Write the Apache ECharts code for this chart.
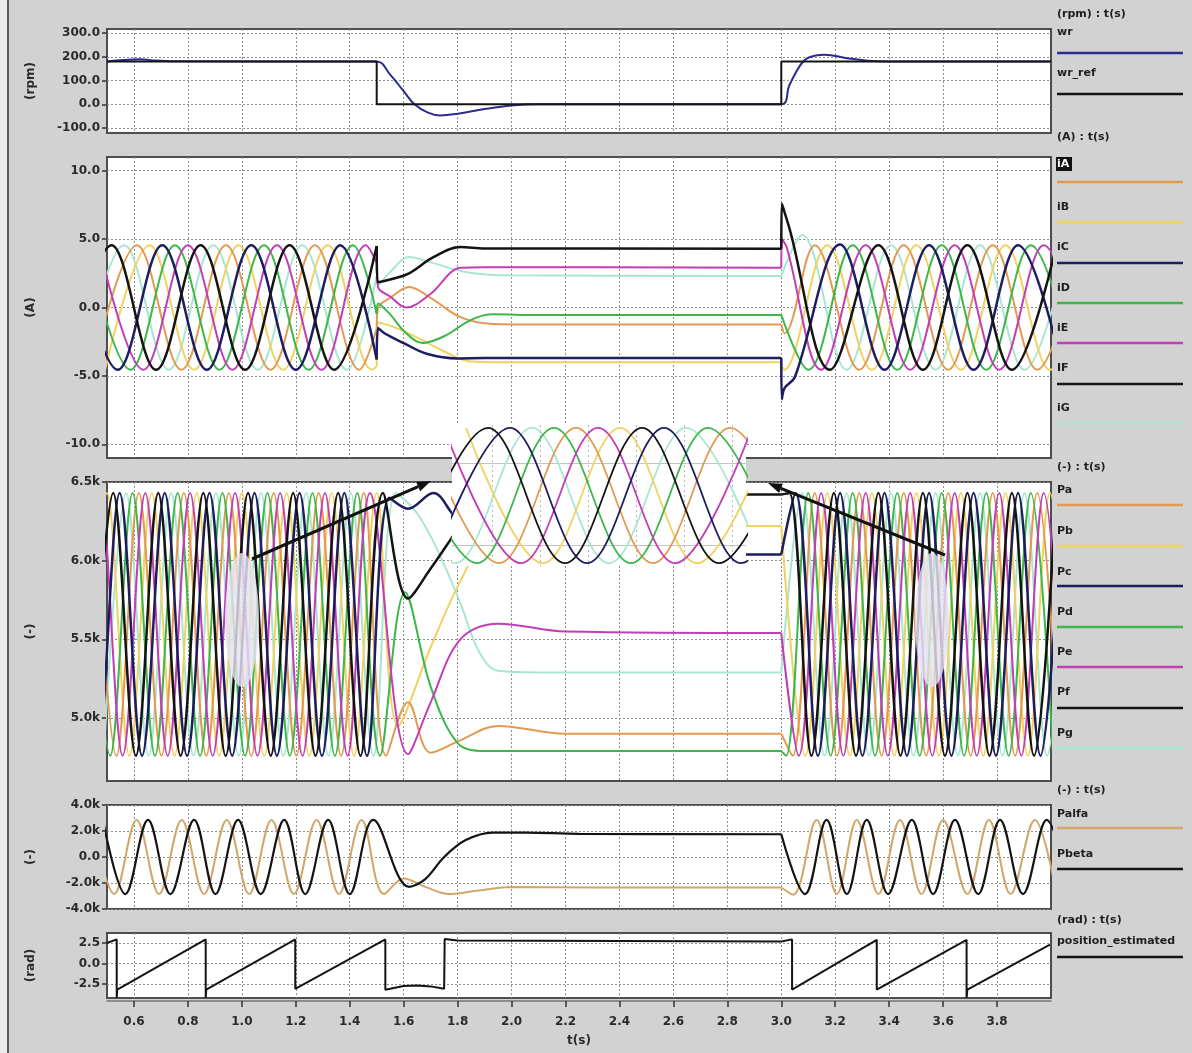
<!DOCTYPE html>
<html><head><meta charset="utf-8">
<script src="https://cdn.jsdelivr.net/npm/echarts@6/dist/echarts.min.js"></script>
<style>html,body{margin:0;padding:0;background:#d2d2d2}#c{width:1192px;height:1053px}</style>
</head><body><div id="c"></div><script>
// ---------- tick labels ----------
const xTicks = [0.6,0.8,1.0,1.2,1.4,1.6,1.8,2.0,2.2,2.4,2.6,2.8,3.0,3.2,3.4,3.6,3.8];
const rpmTicks = [-100,0,100,200,300];
const ampTicks = [-10,-5,0,5,10];
const pTicks = [5.0,5.5,6.0,6.5];          // thousands
const pabTicks = [-4,-2,0,2,4];            // thousands
const radTicks = [-2.5,0,2.5];
const insetGridX = [40,88,136,184,232,280];
const insetGridY = [-0.70,0.46];

// ---------- speed (rpm) ----------
const wr = [[0.5,180],[0.56,186],[0.62,190],[0.68,184],[0.75,181],[1.5,180],[1.55,125],[1.6,55],[1.64,0],[1.69,-35],[1.735,-47],[1.8,-40],[1.9,-20],[2.0,-5],[2.1,0],[3.0,0],[3.03,80],[3.07,164],[3.1,196],[3.16,209],[3.25,193],[3.36,181],[3.45,180],[4.0,180]];
const wr_ref = [[0.5,180],[1.5,180],[1.5,0],[3.0,0],[3.0,180],[4.0,180]];

// ---------- phase currents (A) : left / transient / right ----------
const iA_L = [[0.446,-4.55],[0.611,4.55],[0.776,-4.55],[0.941,4.55],[1.106,-4.55],[1.271,4.55],[1.436,-4.55],[1.5,-1.55]];
const iA_M = [[1.505,0.0],[1.55,0.7],[1.62,1.5],[1.7,0.7],[1.81,-0.7],[1.93,-1.2],[2.1,-1.25],[3.0,-1.25]];
const iA_R = [[3.012,-1.9],[3.124,4.55],[3.289,-4.55],[3.454,4.55],[3.619,-4.55],[3.784,4.55],[3.949,-4.55],[4.114,4.55]];
const iB_L = [[0.493,-4.55],[0.658,4.55],[0.823,-4.55],[0.988,4.55],[1.153,-4.55],[1.318,4.55],[1.483,-4.55],[1.5,-4.3]];
const iB_M = [[1.505,-1.1],[1.56,-1.4],[1.65,-2.2],[1.75,-3.2],[1.85,-3.95],[1.95,-4.0],[3.0,-4.0]];
const iB_R = [[3.01,-4.55],[3.171,4.55],[3.336,-4.55],[3.501,4.55],[3.666,-4.55],[3.831,4.55],[3.996,-4.55],[4.161,4.55]];
const iC_L = [[0.375,4.55],[0.540,-4.55],[0.705,4.55],[0.870,-4.55],[1.035,4.55],[1.200,-4.55],[1.365,4.55],[1.5,-3.8]];
const iC_M = [[1.505,-1.5],[1.53,-1.9],[1.6,-2.6],[1.685,-3.38],[1.8,-3.72],[1.9,-3.7],[3.0,-3.7]];
const iC_R = [[3.002,-6.7],[3.012,-5.9],[3.05,-5.1],[3.218,4.6],[3.383,-4.55],[3.548,4.55],[3.713,-4.55],[3.878,4.55],[4.043,-4.55]];
const iD_L = [[0.422,4.55],[0.587,-4.55],[0.752,4.55],[0.917,-4.55],[1.082,4.55],[1.247,-4.55],[1.412,4.55],[1.5,-0.47]];
const iD_M = [[1.505,0.3],[1.55,-0.5],[1.6,-1.7],[1.67,-2.6],[1.75,-2.1],[1.85,-0.9],[1.93,-0.5],[2.1,-0.55],[3.0,-0.55]];
const iD_R = [[3.1,-4.55],[3.265,4.55],[3.43,-4.55],[3.595,4.55],[3.76,-4.55],[3.925,4.55],[4.09,-4.55]];
const iE_L = [[0.470,4.55],[0.635,-4.55],[0.800,4.55],[0.965,-4.55],[1.130,4.55],[1.295,-4.55],[1.460,4.55],[1.5,3.26]];
const iE_M = [[1.505,1.5],[1.55,0.8],[1.61,0.0],[1.7,1.0],[1.81,2.9],[1.9,2.95],[3.0,2.9]];
const iE_R = [[3.002,5.0],[3.02,4.4],[3.148,-4.55],[3.313,4.55],[3.478,-4.55],[3.643,4.55],[3.808,-4.55],[3.973,4.55],[4.138,-4.55]];
const iF_L = [[0.352,-4.55],[0.517,4.55],[0.682,-4.55],[0.847,4.55],[1.012,-4.55],[1.177,4.55],[1.342,-4.55],[1.5,4.5]];
const iF_M = [[1.503,1.85],[1.52,1.9],[1.56,2.1],[1.62,2.5],[1.71,3.68],[1.81,4.42],[1.9,4.32],[3.0,4.3]];
const iF_R = [[3.002,7.6],[3.01,7.1],[3.03,5.8],[3.18,-4.55],[3.36,4.55],[3.525,-4.55],[3.69,4.55],[3.855,-4.55],[4.02,4.55]];
const iG_L = [[0.399,-4.55],[0.564,4.55],[0.729,-4.55],[0.894,4.55],[1.059,-4.55],[1.224,4.55],[1.389,-4.55],[1.5,2.3]];
const iG_M = [[1.505,1.7],[1.55,2.6],[1.62,3.7],[1.7,3.3],[1.83,2.6],[1.99,2.35],[3.0,2.3]];
const iG_R = [[3.077,5.3],[3.242,-4.55],[3.407,4.55],[3.572,-4.55],[3.737,4.55],[3.902,-4.55],[4.067,4.55]];

// ---------- Pa..Pg (thousands) : until 3.0 / from 3.0 ----------
const Pa_1 = [[0.452,6.43],[0.535,4.76],[0.618,6.43],[0.702,4.76],[0.785,6.43],[0.868,4.76],[0.952,6.43],[1.035,4.76],[1.118,6.43],[1.202,4.76],[1.285,6.43],[1.368,4.76],[1.452,6.43],[1.535,4.76],[1.616,5.1],[1.7,4.78],[1.8,4.85],[1.95,4.95],[2.2,4.9],[3.0,4.9]];
const Pa_2 = [[3.042,4.76],[3.124,6.43],[3.207,4.76],[3.289,6.43],[3.372,4.76],[3.454,6.43],[3.537,4.76],[3.619,6.43],[3.702,4.76],[3.784,6.43],[3.867,4.76],[3.949,6.43],[4.032,4.76]];
const Pb_1 = [[0.416,4.76],[0.500,6.43],[0.583,4.76],[0.666,6.43],[0.750,4.76],[0.833,6.43],[0.916,4.76],[1.000,6.43],[1.083,4.76],[1.166,6.43],[1.250,4.76],[1.333,6.43],[1.416,4.76],[1.500,6.43],[1.58,4.95],[1.7,5.45],[1.81,5.87],[1.9,6.12],[2.0,6.2],[3.0,6.22]];
const Pb_2 = [[3.089,4.76],[3.171,6.43],[3.254,4.76],[3.336,6.43],[3.419,4.76],[3.501,6.43],[3.584,4.76],[3.666,6.43],[3.749,4.76],[3.831,6.43],[3.914,4.76],[3.996,6.43],[4.079,4.76]];
const Pc_1 = [[0.381,6.43],[0.464,4.76],[0.547,6.43],[0.630,4.76],[0.714,6.43],[0.797,4.76],[0.880,6.43],[0.964,4.76],[1.047,6.43],[1.130,4.76],[1.214,6.43],[1.297,4.76],[1.380,6.43],[1.464,4.76],[1.547,6.4],[1.616,6.33],[1.71,6.43],[1.78,6.3],[1.9,6.06],[2.1,6.04],[3.0,6.04]];
const Pc_2 = [[3.053,6.43],[3.136,4.76],[3.218,6.43],[3.301,4.76],[3.383,6.43],[3.466,4.76],[3.548,6.43],[3.631,4.76],[3.713,6.43],[3.796,4.76],[3.878,6.43],[3.961,4.76],[4.043,6.43]];
const Pd_1 = [[0.428,6.43],[0.512,4.76],[0.595,6.43],[0.678,4.76],[0.762,6.43],[0.845,4.76],[0.928,6.43],[1.012,4.76],[1.095,6.43],[1.178,4.76],[1.262,6.43],[1.345,4.76],[1.428,6.43],[1.512,4.76],[1.605,5.8],[1.7,5.2],[1.8,4.84],[1.9,4.79],[3.0,4.79]];
const Pd_2 = [[3.018,4.76],[3.100,6.43],[3.183,4.76],[3.265,6.43],[3.348,4.76],[3.430,6.43],[3.513,4.76],[3.595,6.43],[3.678,4.76],[3.760,6.43],[3.843,4.76],[3.925,6.43],[4.008,4.76]];
const Pe_1 = [[0.392,4.76],[0.475,6.43],[0.558,4.76],[0.642,6.43],[0.725,4.76],[0.808,6.43],[0.892,4.76],[0.975,6.43],[1.058,4.76],[1.142,6.43],[1.225,4.76],[1.308,6.43],[1.392,4.76],[1.475,6.43],[1.616,4.77],[1.7,5.1],[1.81,5.5],[1.95,5.6],[2.2,5.55],[3.0,5.54]];
const Pe_2 = [[3.065,4.76],[3.148,6.43],[3.230,4.76],[3.313,6.43],[3.395,4.76],[3.478,6.43],[3.560,4.76],[3.643,6.43],[3.725,4.76],[3.808,6.43],[3.890,4.76],[3.973,6.43],[4.055,4.76]];
const Pf_1 = [[0.440,4.76],[0.523,6.43],[0.607,4.76],[0.690,6.43],[0.773,4.76],[0.857,6.43],[0.940,4.76],[1.023,6.43],[1.107,4.76],[1.190,6.43],[1.273,4.76],[1.357,6.43],[1.440,4.76],[1.523,6.43],[1.616,5.76],[1.7,5.95],[1.78,6.15],[1.87,6.38],[1.97,6.42],[3.0,6.42]];
const Pf_2 = [[3.030,6.43],[3.112,4.76],[3.195,6.43],[3.277,4.76],[3.360,6.43],[3.442,4.76],[3.525,6.43],[3.607,4.76],[3.690,6.43],[3.772,4.76],[3.855,6.43],[3.937,4.76],[4.020,6.43]];
const Pg_1 = [[0.488,4.76],[0.571,6.43],[0.654,4.76],[0.738,6.43],[0.821,4.76],[0.904,6.43],[0.988,4.76],[1.071,6.43],[1.154,4.76],[1.238,6.43],[1.321,4.76],[1.404,6.43],[1.488,4.76],[1.571,6.43],[1.65,6.3],[1.73,6.05],[1.81,5.73],[1.88,5.42],[1.95,5.3],[2.1,5.29],[3.0,5.29]];
const Pg_2 = [[3.077,6.43],[3.160,4.76],[3.242,6.43],[3.325,4.76],[3.407,6.43],[3.490,4.76],[3.572,6.43],[3.655,4.76],[3.737,6.43],[3.820,4.76],[3.902,6.43],[3.985,4.76],[4.067,6.43]];

// ---------- Palfa / Pbeta (thousands) ----------
const Palfa_1 = [[0.444,2.85],[0.527,-2.85],[0.610,2.85],[0.693,-2.85],[0.777,2.85],[0.860,-2.85],[0.944,2.85],[1.027,-2.85],[1.110,2.85],[1.193,-2.85],[1.277,2.85],[1.360,-2.85],[1.444,2.85],[1.527,-2.85],[1.6,-1.65],[1.68,-2.3],[1.77,-2.85],[1.87,-2.6],[2.0,-2.3],[2.3,-2.35],[3.0,-2.35]];
const Palfa_2 = [[3.044,-2.9],[3.131,2.85],[3.206,-2.85],[3.28,2.85],[3.36,-2.85],[3.44,2.85],[3.52,-2.85],[3.60,2.85],[3.69,-2.85],[3.77,2.85],[3.85,-2.85],[3.94,2.85],[4.02,-2.85]];
const Pbeta_1 = [[0.485,2.85],[0.568,-2.85],[0.652,2.85],[0.735,-2.85],[0.823,2.85],[0.902,-2.85],[0.986,2.85],[1.070,-2.85],[1.157,2.85],[1.235,-2.85],[1.320,2.85],[1.400,-2.85],[1.487,2.85],[1.62,-2.3],[1.68,-1.7],[1.75,0.0],[1.83,1.3],[1.93,1.88],[2.05,1.88],[2.25,1.78],[3.0,1.75]];
const Pbeta_2 = [[3.088,-2.85],[3.168,2.85],[3.243,-2.85],[3.317,2.85],[3.396,-2.85],[3.484,2.85],[3.563,-2.85],[3.644,2.85],[3.73,-2.85],[3.811,2.85],[3.896,-2.85],[3.984,2.85],[4.07,-2.85]];

// ---------- position_estimated (rad) ----------
const position_estimated = [[0.5,2.5],[0.536,2.95],[0.536,-4.2],[0.538,-3.2],[0.866,2.95],[0.866,-4.2],[0.868,-3.2],[1.198,2.95],[1.198,-3.1],[1.532,2.95],[1.532,-3.2],[1.55,-3.1],[1.6,-2.75],[1.65,-2.7],[1.7,-2.8],[1.75,-3.1],[1.752,-3.2],[1.752,3.0],[1.8,2.8],[3.0,2.7],[3.04,2.95],[3.04,-3.2],[3.354,2.9],[3.354,-3.2],[3.687,2.9],[3.687,-4.2],[3.69,-3.2],[3.996,2.3]];

// ---------- inset (magnified view, local units) ----------
const zF = [[-41,-0.96],[36,0.96],[113,-0.96],[190,0.96],[267,-0.96],[344,0.96]];
const zC = [[-19,-0.96],[58,0.96],[135,-0.96],[212,0.96],[289,-0.96],[366,0.96]];
const zG = [[-74,0.96],[3,-0.96],[80,0.96],[157,-0.96],[234,0.96],[311,-0.96]];
const zD = [[-52,0.96],[25,-0.96],[102,0.96],[179,-0.96],[256,0.96],[333,-0.96]];
const zA = [[-30,0.96],[47,-0.96],[124,0.96],[201,-0.96],[278,0.96],[355,-0.96]];
const zE = [[-8,0.96],[69,-0.96],[146,0.96],[223,-0.96],[300,0.96]];
const zB = [[14,0.96],[91,-0.96],[168,0.96],[245,-0.96],[322,0.96]];

// ---------- styling ----------
const FONT = 'DejaVu Sans, Liberation Sans, Arial, sans-serif';
const C = {orange:'#e29a52', yellow:'#f0d262', navy:'#1d1d60', green:'#3db64a', magenta:'#c23db6',
           black:'#141414', mint:'#a9e6cf', tan:'#d2a66a', blue:'#2c2c8e'};
const L = 107, W = 944;
const grids = [
  {left:L, width:W, top:29, height:104},
  {left:L, width:W, top:157, height:301},
  {left:L, width:W, top:482, height:299},
  {left:L, width:W, top:805, height:104},
  {left:L, width:W, top:933, height:65}
].map(g => Object.assign(g, {show:true, backgroundColor:'#ffffff', borderColor:'#4d4d4d', borderWidth:2}));
grids.push({left:452, top:425, width:294, height:141, show:true, backgroundColor:'#ffffff', borderWidth:0, z:50});

const splitStyle = {show:true, lineStyle:{color:'#8e8e8e', type:[2,2], width:1}};
const labStyle = {color:'#2a2a2a', fontWeight:'bold', fontSize:12, fontFamily:FONT};

function xAx(i, bottom){
  return {type:'value', gridIndex:i, min:0.5, max:4.0,
    name: bottom ? 't(s)' : '', nameLocation:'middle', nameGap:34,
    nameTextStyle:{color:'#2a2a2a', fontWeight:'bold', fontSize:12, fontFamily:FONT},
    offset: bottom ? 3 : 0,
    axisLine:{show:bottom, onZero:false, lineStyle:{color:'#777', width:1.5}},
    axisTick:{show:bottom, customValues:xTicks, length:6, lineStyle:{color:'#333', width:1.5}},
    axisLabel:{show:bottom, customValues:xTicks, margin:15, formatter:v=>v.toFixed(1), ...labStyle},
    splitLine:splitStyle};
}
function yAx(i, min, max, ticks, fmt, name){
  return {type:'value', gridIndex:i, min, max, name, nameLocation:'middle', nameGap:70, nameRotate:90,
    nameTextStyle:{color:'#2a2a2a', fontWeight:'bold', fontSize:12, fontFamily:FONT},
    axisLine:{show:false},
    axisTick:{show:true, customValues:ticks, length:5, lineStyle:{color:'#333', width:1.5}},
    axisLabel:{customValues:ticks, margin:7, formatter:fmt, ...labStyle},
    splitLine:splitStyle};
}
const f1 = v => v.toFixed(1);
const fk = v => v === 0 ? '0.0' : v.toFixed(1) + 'k';

const xAxis = [xAx(0,false), xAx(1,false), xAx(2,false), xAx(3,false), xAx(4,true),
  {type:'value', gridIndex:5, min:0, max:294, z:55, axisLine:{show:false},
   axisTick:{show:false, customValues:insetGridX}, axisLabel:{show:false, customValues:insetGridX},
   splitLine:{show:true, lineStyle:{color:'#b8b8b8', type:[2,3], width:1}}}];
const yAxis = [
  yAx(0, -121, 317, rpmTicks, f1, '(rpm)'),
  yAx(1, -11, 11, ampTicks, f1, '(A)'),
  yAx(2, 4.6, 6.5, pTicks, fk, '(-)'),
  yAx(3, -4, 4, pabTicks, fk, '(-)'),
  yAx(4, -4.22, 3.73, radTicks, f1, '(rad)'),
  {type:'value', gridIndex:5, min:-1, max:1, z:55, axisLine:{show:false},
   axisTick:{show:false, customValues:insetGridY}, axisLabel:{show:false, customValues:insetGridY},
   splitLine:{show:true, lineStyle:{color:'#c4c4c4', width:1.2}}}
];

const series = [];
function add(g, data, color, width, smooth, z){
  series.push({type:'line', xAxisIndex:g, yAxisIndex:g, data, symbol:'none', showSymbol:false,
    smooth: smooth, lineStyle:{color, width}, z: z || 2, animation:false, silent:true});
}
function addSeg(g, parts, color, width, z){
  let prev = null;
  parts.forEach(p => {
    const d = prev ? [prev].concat(p) : p;
    add(g, d, color, width, 0.36, z);
    prev = p[p.length-1];
  });
}
// panel 1
add(0, wr, C.blue, 2, 0.4, 3);
add(0, wr_ref, C.black, 2, false, 4);
// panel 2 (currents)
addSeg(1, [iG_L,iG_M,iG_R], C.mint, 2, 2);
addSeg(1, [iB_L,iB_M,iB_R], C.yellow, 2, 2);
addSeg(1, [iA_L,iA_M,iA_R], C.orange, 2, 2);
addSeg(1, [iD_L,iD_M,iD_R], C.green, 2, 2);
addSeg(1, [iE_L,iE_M,iE_R], C.magenta, 2, 3);
addSeg(1, [iC_L,iC_M,iC_R], C.navy, 2.5, 4);
addSeg(1, [iF_L,iF_M,iF_R], C.black, 2.5, 5);
// panel 3
addSeg(2, [Pg_1,Pg_2], C.mint, 2, 2);
addSeg(2, [Pb_1,Pb_2], C.yellow, 2, 2);
addSeg(2, [Pa_1,Pa_2], C.orange, 2, 2);
addSeg(2, [Pd_1,Pd_2], C.green, 2, 2);
addSeg(2, [Pe_1,Pe_2], C.magenta, 2, 3);
addSeg(2, [Pc_1,Pc_2], C.navy, 2.5, 4);
addSeg(2, [Pf_1,Pf_2], C.black, 2.5, 5);
// panel 4
addSeg(3, [Palfa_1,Palfa_2], C.tan, 2, 2);
addSeg(3, [Pbeta_1,Pbeta_2], C.black, 2.2, 3);
// panel 5
add(4, position_estimated, C.black, 2, false, 3);
// inset
[[zG,C.mint],[zB,C.yellow],[zA,C.orange],[zD,C.green],[zE,C.magenta],[zC,C.navy],[zF,C.black]]
  .forEach(([d,c],k) => add(5, d, c, 1.8, 0.36, 60 + k));

// ---------- legend (right column) ----------
const legend = [
  ['(rpm) : t(s)', 14, null, null],
  ['wr', 32, 53, C.blue], ['wr_ref', 73, 94, C.black],
  ['(A) : t(s)', 137, null, null],
  ['iA', 164, 182, C.orange], ['iB', 207, 222, C.yellow], ['iC', 247, 263, C.navy],
  ['iD', 288, 303, C.green], ['iE', 328, 343, C.magenta], ['IF', 368, 384, C.black], ['iG', 408, 423, C.mint],
  ['(-) : t(s)', 467, null, null],
  ['Pa', 490, 505, C.orange], ['Pb', 531, 546, C.yellow], ['Pc', 572, 586, C.navy],
  ['Pd', 612, 627, C.green], ['Pe', 652, 667, C.magenta], ['Pf', 692, 708, C.black], ['Pg', 733, 748, C.mint],
  ['(-) : t(s)', 790, null, null],
  ['Palfa', 814, 828, C.tan], ['Pbeta', 854, 869, C.black],
  ['(rad) : t(s)', 920, null, null],
  ['position_estimated', 941, 957, C.black]
];
const graphic = [
  {type:'rect', shape:{x:0, y:0, width:7, height:1053}, style:{fill:'#ececec'}, z:1},
  {type:'line', shape:{x1:8, y1:0, x2:8, y2:1053}, style:{stroke:'#5a5a5a', lineWidth:2}, z:1}
];
legend.forEach(([t, ty, ly, col]) => {
  if (t === 'iA') graphic.push({type:'rect', shape:{x:1056, y:ty-7, width:16, height:14}, style:{fill:'#111'}, z:10});
  graphic.push({type:'text', x:1057, y:ty, z:11, style:{text:t, fill: t==='iA' ? '#fff' : '#1e1e1e',
    font:'bold 11px ' + FONT, verticalAlign:'middle', textVerticalAlign:'middle'}});
  if (ly) graphic.push({type:'line', shape:{x1:1057, y1:ly, x2:1183, y2:ly}, style:{stroke:col, lineWidth:2.5}, z:10});
});
// highlight blobs and arrows
graphic.push({type:'ellipse', shape:{cx:242, cy:620, rx:17, ry:67}, style:{fill:'rgba(228,226,238,0.82)'}, z:40});
graphic.push({type:'ellipse', shape:{cx:932, cy:620, rx:17, ry:67}, style:{fill:'rgba(228,226,238,0.82)'}, z:40});
function arrow(x1,y1,x2,y2){
  const a = Math.atan2(y2-y1, x2-x1), h = 14, w = 5;
  const bx = x2 - h*Math.cos(a), by = y2 - h*Math.sin(a);
  graphic.push({type:'line', shape:{x1, y1, x2:bx, y2:by}, style:{stroke:'#111', lineWidth:3}, z:100});
  graphic.push({type:'polygon', shape:{points:[[x2,y2],[bx - w*Math.sin(a), by + w*Math.cos(a)],[bx + w*Math.sin(a), by - w*Math.cos(a)]]}, style:{fill:'#111'}, z:100});
}
arrow(252, 559, 431, 481);
arrow(945, 555, 768, 483);

const chart = echarts.init(document.getElementById('c'), null, {renderer:'canvas'});
chart.setOption({
  backgroundColor:'#d2d2d2', animation:false,
  grid: grids, xAxis, yAxis, series, graphic
});
</script></body></html>
